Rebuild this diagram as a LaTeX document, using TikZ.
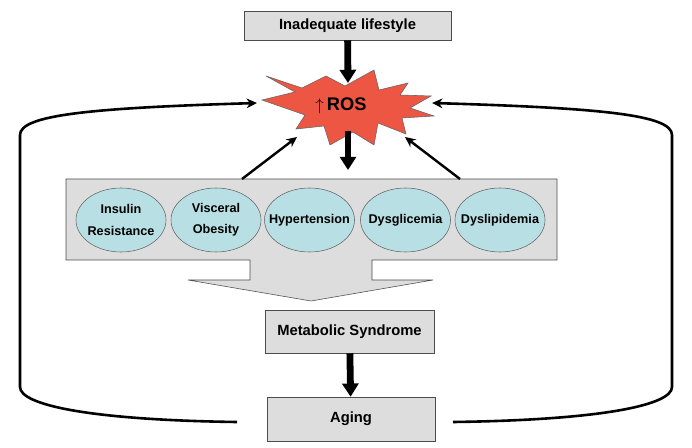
\documentclass[tikz,border=0pt]{standalone}
\usepackage{fontspec}
\setmainfont{Liberation Sans}
\usepackage{tikz}
\usetikzlibrary{arrows.meta,shapes.geometric,positioning}
\definecolor{boxgray}{RGB}{221,221,221}
\definecolor{cellblue}{RGB}{184,224,228}
\definecolor{rosred}{RGB}{238,86,68}
\begin{document}
\begin{tikzpicture}
[x=0.25mm,y=-0.25mm,
 box/.style={rectangle,draw=black!70,fill=boxgray,thin,inner sep=0pt,
    font=\fontsize{10.5}{12}\selectfont\bfseries},
 cell/.style={ellipse,draw=black!60,fill=cellblue,thin,inner xsep=-2.6mm,
    inner ysep=0pt,minimum width=22.5mm,minimum height=16mm,align=center,
    font=\fontsize{9}{15}\selectfont\bfseries},
 fat/.style={-{Triangle[length=3.3mm,width=4mm]},line width=1.7mm},
 thinarrow/.style={-{Stealth[length=2.6mm,width=2.4mm]},line width=0.6mm},
 feedback/.style={-{Stealth[length=2.6mm,width=2.4mm]},line width=0.65mm}]
\useasboundingbox (0,0) rectangle (692,448);

\filldraw [fill=boxgray,draw=black!70,thin] (66,179) -- (557,179) -- (557,260)
  -- (372,260) -- (372,280) -- (433,280) -- (311,301) -- (188,280)
  -- (250,280) -- (250,260) -- (66,260) -- cycle;

\filldraw [fill=rosred,draw=black!60,thin] (266,76) -- (302,88) -- (326,76)
  -- (345,86) -- (374,70) -- (379,90) -- (408,83) -- (400,95) -- (431,96)
  -- (410,108) -- (434,116) -- (402,118) -- (406,134) -- (378,123)
  -- (374,145) -- (353,132) -- (330,145) -- (324,126) -- (296,129)
  -- (305,115) -- (262,100) -- (295,92) -- cycle;

\node[box,minimum width=51.75mm,minimum height=7.25mm] (life) at (347.5,25.5) {Inadequate lifestyle};
\node[font=\fontsize{13}{15}\selectfont\bfseries] (ros) at (341,106) {$\uparrow$\,ROS};
\node[box,minimum width=42.25mm,minimum height=10.75mm] (ms) at (349.5,331.5) {Metabolic Syndrome};
\node[box,minimum width=42mm,minimum height=11mm] (aging) at (351,419) {Aging};

\node[cell] (ir) at (121,220) {Insulin\\Resistance};
\node[cell] (vo) at (216,220) {Visceral\\Obesity};
\node[cell] (ht) at (309.5,220) {Hypertension};
\node[cell] (dg) at (405.5,220) {Dysglicemia};
\node[cell] (dl) at (500,220) {Dyslipidemia};

\coordinate (rosN) at (348,83);
\coordinate (rosS) at (348,131);
\coordinate (rosW) at (257,103);
\coordinate (rosE) at (432,103);
\coordinate (rosSW) at (297,137);
\coordinate (rosSE) at (405,137);
\coordinate (panelN) at (348,170);
\coordinate (panelNW) at (242,179);
\coordinate (panelNE) at (460,179);
\coordinate (leftend) at (237,422);
\coordinate (rightend) at (453,422);

\draw [fat] (life) -- (rosN);
\draw [fat] (rosS) -- (panelN);
\draw [fat] (ms) -- (aging);
\draw [thinarrow] (panelNW) -- (rosSW);
\draw [thinarrow] (panelNE) -- (rosSE);
\draw [feedback] (leftend) .. controls (90,420) and (20,405) .. (20,387)
  -- (20,135) .. controls (20,115) and (90,108) .. (rosW);
\draw [feedback] (rightend) .. controls (602,420) and (672,405) .. (672,387)
  -- (672,135) .. controls (672,115) and (602,108) .. (rosE);
\end{tikzpicture}
\end{document}
